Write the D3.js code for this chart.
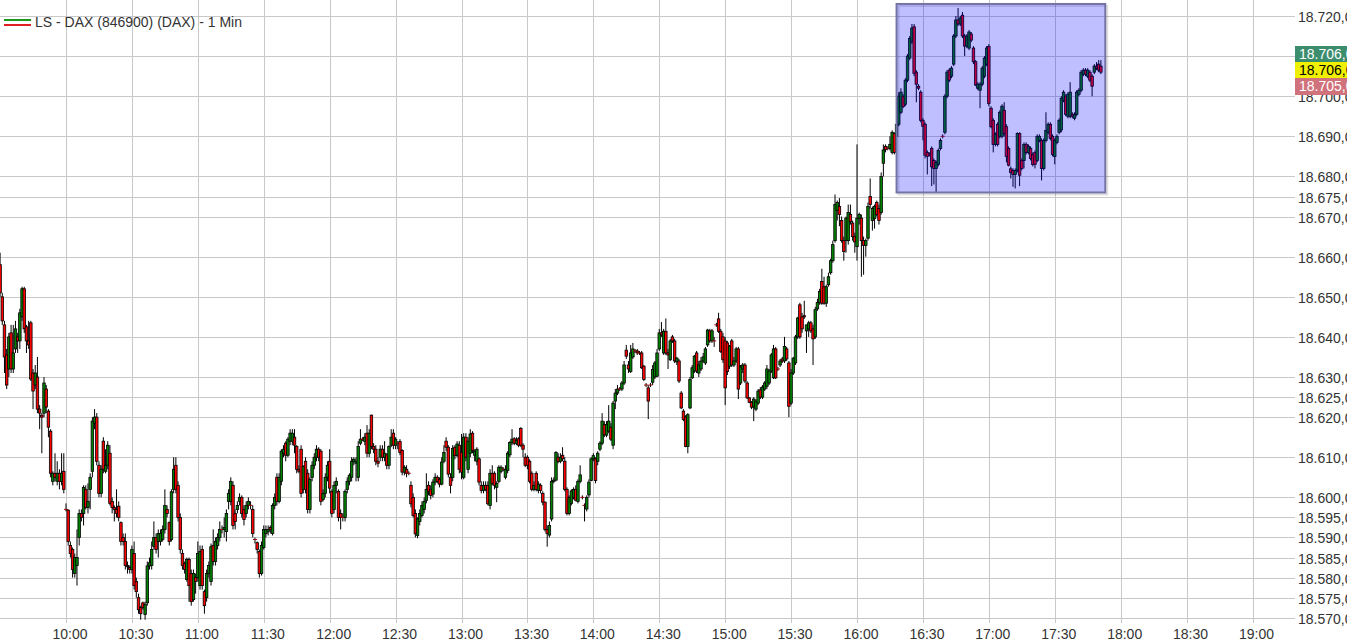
<!DOCTYPE html>
<html><head><meta charset="utf-8">
<script src="https://cdn.jsdelivr.net/npm/d3@7"></script>
<style>
html,body{margin:0;padding:0;background:#fff;overflow:hidden;}
svg{display:block;font-family:"Liberation Sans",Arial,sans-serif;}
</style></head><body>
<svg id="chart" width="1347" height="643"></svg>
<script>
// ---------------- DATA ----------------
const title = "LS - DAX (846900) (DAX) - 1 Min";
const firstBar = [9, 30];           // first 1-minute bar 09:30
// [open, high, low, close] per minute
const candles = [
[18658,18661,18650,18651],[18650,18651,18643,18644],[18643,18644,18631,18635],[18635.5,18637,18627,18628],[18632,18641,18630,18640],[18641,18643,18631,18632],[18632,18643,18631,18636],[18637,18644,18636,18642],[18640,18641,18636,18639],[18639,18647,18637,18646],
[18645,18652.5,18644,18652],[18652,18652.5,18641,18642],[18642.5,18643,18636,18639],[18639,18644,18637,18638],[18643.5,18644,18629,18629.5],[18631,18632,18622,18626.5],[18628,18633,18627,18631],[18630,18635,18621,18622],[18622,18623,18617,18621],[18620.5,18621,18611,18620],
[18621,18630,18620,18628.5],[18627,18628,18621,18622.5],[18621.5,18622,18615,18617.5],[18616.5,18617,18605,18606],[18604,18606.5,18603,18606],[18606,18611,18604,18605],[18604,18609,18603,18606],[18606,18607,18602,18604],[18604,18611,18603,18606],[18606.5,18611,18601,18602],
[18597.2,18598.5,18596.5,18597],[18596.8,18597,18588,18589],[18588,18589,18585,18586],[18587,18587.5,18580,18582],[18581,18586,18580,18585],[18583,18592,18578,18585],[18590,18597,18588,18596],[18596,18597,18594,18595],[18596,18603,18593,18602.5],[18602,18603,18597,18597.5],
[18597.5,18603.5,18596,18599],[18602,18606,18597,18605],[18606.5,18620,18605,18619],[18618.5,18622,18617,18620],[18620,18621,18608,18609],[18608,18609,18600,18601],[18601,18608,18600,18607],[18614,18615,18606,18607],[18606.5,18612,18606,18608],[18608,18614,18607,18613],
[18611,18613,18598,18598.5],[18599,18600,18596,18597.5],[18597.5,18598,18594,18597],[18597,18602,18595,18596],[18597.8,18599,18594,18595],[18593.7,18594,18588,18589],[18590,18591,18588,18589],[18589,18591,18582,18583],[18583,18584,18581,18582.7],[18582.5,18583,18581,18582],
[18582,18588,18581,18587],[18586,18589,18577,18578],[18579,18580,18575,18576.5],[18575,18576,18571,18572],[18572.5,18573,18569.5,18571],[18573.7,18574,18572,18572.5],[18570.8,18574,18569.5,18573.3],[18573.7,18584,18573,18582.9],[18582.9,18585,18582,18583.7],[18583,18589,18582,18587],
[18587.8,18594,18587,18590],[18590,18591,18586,18587],[18589,18592,18585,18591],[18589,18592,18588,18591],[18589.5,18593,18589,18592],[18592,18602,18591,18598],[18597,18598,18595,18596],[18593.7,18594,18588,18589],[18589.5,18602,18589,18601.4],[18602,18610,18601,18607],
[18608,18610,18601,18602],[18603,18604,18594,18595],[18595,18596,18586,18587],[18586,18587,18582,18583],[18583.5,18584,18581,18582],[18579.5,18585,18579,18584.5],[18584.5,18585,18574,18578],[18581,18582,18573,18574],[18574.5,18582,18574,18581],[18580,18581,18576,18579],
[18580,18589,18579,18586],[18578,18588,18577,18586.5],[18587,18588,18577,18578],[18576.5,18577,18571,18573],[18575,18582,18574,18581],[18581,18584,18580,18583],[18579,18588.5,18578,18587.7],[18588,18592,18583,18584],[18584,18590,18583,18589],[18588,18591,18587,18590],
[18590,18594,18589,18592],[18592,18593,18591,18592],[18592,18595,18590,18592.5],[18591.5,18597,18589,18596],[18599,18602,18597,18601],[18599,18605,18598,18604],[18603,18604,18592,18593],[18596,18597,18592,18594],[18597,18599,18596,18598],[18599,18601,18598,18600],
[18600,18600.5,18595,18596],[18597,18598,18593,18594.5],[18596,18599,18595,18598],[18598,18600,18597,18599],[18598,18599,18597,18598],[18597,18598,18590,18591],[18589.5,18590,18588.5,18589.5],[18588.7,18589,18586,18587],[18586.5,18587,18580,18581],[18581,18589,18580.5,18588],
[18587.5,18593,18587,18592],[18591,18593,18590,18592],[18591.5,18593,18590.5,18592],[18592.5,18593,18591,18592],[18591,18598.5,18590.5,18598],[18598,18601,18597,18600],[18605,18606,18598,18599],[18599,18606,18598.5,18605],[18604,18612,18603,18611.5],[18611,18613,18610,18612],
[18613.5,18614,18609,18610.5],[18610.5,18615,18610,18614.5],[18614,18617,18613,18616],[18614,18617,18613,18616],[18615,18617,18611,18613],[18612.7,18613,18606,18607],[18607,18608,18606,18606.5],[18612,18613,18600,18601],[18602,18608,18601,18607.7],[18609,18610,18601,18602],
[18606,18607,18596,18597],[18597,18605,18596,18604.5],[18605,18609,18604,18608],[18608,18611,18607,18610],[18610,18613,18609,18612],[18612,18612.5,18609,18610],[18611.5,18612,18598,18599],[18599.5,18602,18599,18601],[18601,18606,18600,18605],[18605,18609,18604,18608],
[18609,18612,18601,18602.3],[18601.5,18602,18595,18596],[18597,18604,18596,18603],[18603,18605,18601,18604],[18601.5,18602,18594,18595],[18596,18597,18592,18595],[18595,18596,18594,18595],[18595,18602,18594,18601.5],[18602,18605,18601,18604],[18604,18606,18603,18605.5],
[18605,18610,18604,18609],[18609,18610,18608,18609.5],[18608.5,18610,18604,18609],[18605,18614,18604,18612.7],[18613.5,18617,18613,18614.5],[18614.5,18615,18614,18614.5],[18614,18616,18613,18615],[18616,18618,18610,18611],[18611,18617,18610,18616],[18620.5,18620.6,18612,18612.7],
[18612.7,18613.5,18611,18612],[18612,18613,18608,18609],[18609,18610,18607.5,18608.5],[18610,18613,18609,18612],[18612,18613,18609,18610],[18610,18614,18609,18611],[18610.6,18611,18607,18608],[18608,18613,18607,18612.7],[18613,18617,18612.5,18615],[18616,18617,18612,18613],
[18613,18615,18612,18614.5],[18613.5,18614,18612,18613.5],
[18613.9,18614.5,18610.5,18611.2],[18611.7,18612,18605.5,18606.3],[18606.3,18608,18605.5,18607.5],[18607,18608,18605,18606],[18606,18606.5,18605.5,18606],[18603,18604,18597.5,18598.4],[18600,18601,18595,18595.5],[18596,18597,18590,18590.9],[18590.5,18595,18589.8,18594.6],[18594,18597,18593,18596],
[18595.5,18599,18595,18598],[18597,18600,18596,18599],[18599.2,18606,18598.5,18602],[18603,18604,18600.5,18601.5],[18602,18603,18599.5,18600.5],[18600.8,18604.5,18600,18603.8],[18603.8,18606,18603,18605],[18605,18605.5,18603.5,18604],[18604.5,18605,18602.5,18603.3],[18603.3,18610,18603,18608.8],
[18609,18613,18608.5,18611.2],[18614,18615,18611.5,18612.5],[18612.5,18613,18605,18605.8],[18605,18606,18601,18603],[18605,18613,18604,18612.2],[18612.5,18613,18609.5,18610.4],[18610.4,18614,18610,18613.3],[18613,18614,18606,18607],[18611.2,18615.8,18604.5,18606.3],[18605,18616,18604.5,18615],
[18615,18616,18609,18610],[18607,18615,18606,18614],[18611,18617,18610,18615.8],[18616,18616.5,18611,18611.7],[18610.5,18612,18609,18611.5],[18609,18612.5,18608,18612],[18609.6,18610,18603,18603.8],[18603,18604,18601,18601.7],[18601.7,18604,18601,18603],[18603,18604,18601.5,18602],
[18603,18604,18598,18598.4],[18598,18607,18597,18606],[18606,18608,18603,18603.5],[18606,18606.5,18602,18603],[18602.5,18604,18598.8,18603.5],[18604,18608,18603.5,18607.5],[18606.5,18608,18606,18607.5],[18607,18607.5,18606.5,18607],[18605,18608,18604.5,18607],[18606.7,18611.5,18606,18611],
[18610.6,18614,18610,18613.7],[18613.6,18617,18613,18614.5],[18614.6,18615,18613,18613.5],[18613.5,18615,18613,18614.2],[18614.6,18615,18612.5,18613],[18617.2,18617.5,18612.5,18613],[18613,18613.5,18610,18612],[18610,18611,18607.5,18608],[18610,18610.5,18607,18608],[18609,18609.5,18603.5,18604],
[18606,18606.5,18601.5,18602],[18602,18604,18601.5,18603],[18606,18606.5,18601.5,18602],[18601.7,18604,18601,18603.3],[18603,18603.5,18601,18601.7],[18601,18601.5,18598,18598.8],[18598.8,18599,18591.5,18592],[18592,18593,18587.7,18591],[18590.6,18594,18590,18593],[18594.6,18605,18594,18604],
[18604,18605,18603.5,18604.3],[18604.3,18611.5,18604,18611.2],[18610,18611,18608.5,18609],[18609,18611,18608.5,18610],[18610.5,18612.5,18609,18609.6],[18609,18610,18601.5,18602],[18602,18602.5,18595.5,18596],[18596,18600.5,18595.5,18600],[18598.5,18602,18598,18601.6],[18600,18602.5,18599.5,18602],
[18602,18603,18599,18599.3],[18599,18604.5,18598.5,18604],[18604,18608,18603.5,18605.6],[18600,18600.5,18599.5,18600],[18598,18598.5,18594,18598],[18597.1,18600.5,18596.5,18600],[18600.6,18604.5,18600,18603.8],[18604.2,18610,18604,18609.6],[18609.6,18611,18609,18610.4],[18609.6,18610,18603.5,18604.2],
[18609,18611.5,18608,18611],[18612,18614,18611.5,18613.5],
[18613.5,18621,18613,18619],[18618.1,18619,18615,18615.6],[18615.5,18619,18615,18618.2],[18616.5,18623,18616,18619],[18617.5,18618.5,18614,18614.5],[18613,18624,18612,18623.5],[18624,18627,18622,18626],[18626,18628,18625.5,18627],[18627,18627.5,18626.5,18627],[18627,18629,18626.5,18628.5],
[18628.5,18634,18628,18633],[18636.7,18638,18634.5,18635.2],[18633,18634,18631,18632],[18631.4,18638,18631,18636],[18635,18638.5,18634.5,18637],[18636.5,18637,18636,18636.5],[18636.5,18637,18635.5,18636],[18636,18636.5,18635.5,18636],[18636,18636.5,18632,18632.3],[18632.7,18633,18629,18629.4],
[18628,18628.5,18627.5,18628],[18627.3,18628,18619.5,18624],[18628,18628.5,18627.5,18628],[18628.7,18633,18628,18631.9],[18630,18634,18629.5,18633.5],[18630.2,18637,18630,18636],[18637,18642,18636.5,18641],[18641,18643.7,18640,18640.5],[18636,18642,18635.5,18641.4],[18641.4,18644.6,18635.5,18636],
[18636,18637,18632,18635.5],[18634.3,18639.5,18634,18639],[18640,18640.5,18638.5,18639],[18639,18639.5,18633.5,18634],[18633.8,18635,18633,18634.7],[18634,18634.5,18628.5,18629],[18626,18626.5,18622,18622.3],[18621.5,18622,18619,18619.4],[18620,18620.5,18612.5,18612.7],[18612.7,18621,18611,18620.6],
[18622.3,18630,18622,18629.4],[18629.8,18633,18629.5,18632.3],[18631.5,18635.5,18631,18635.2],[18636,18636.5,18631,18631.5],[18631,18634,18630,18633],[18632,18635,18631.5,18634],[18634,18636,18633.5,18635],[18633.5,18637.5,18633,18637],[18638,18642,18637.5,18641.7],[18641.5,18642,18638.5,18639],
[18639,18642,18638.5,18641.5],[18639,18640,18637.5,18639],[18643,18643.5,18642.5,18643],[18644.5,18646,18641,18641.4],[18641.4,18642,18636,18636.4],[18640,18641,18633.5,18634.3],
[18639,18640,18623,18627.3],[18638.5,18639,18630.5,18631.4],[18632.7,18638,18632,18637.7],[18639,18639.5,18632.5,18633],[18633,18635,18632.5,18634],[18634,18637.5,18633.5,18637],[18637,18637.5,18624.5,18627],[18628.5,18633,18628,18632.5],[18632,18633.5,18631,18633],[18633,18633.5,18628.5,18629],
[18628.5,18629,18624.5,18624.8],[18624.8,18625,18623.5,18623.7],[18623.7,18624,18622,18622.5],[18622.5,18625,18619,18624.5],[18622,18624.5,18621.5,18624],[18623.5,18627,18623,18626.5],[18626.8,18627.5,18624.5,18625],[18625,18628,18624.5,18627.5],[18627,18629,18626.5,18628.5],[18627.7,18633,18627,18632],
[18628.5,18632,18628,18631.5],[18631.5,18636,18631,18635.5],[18629.8,18638,18629.5,18637],[18637,18637.5,18629.5,18629.8],[18632,18632.5,18631.5,18632],[18633,18634.5,18632.5,18634],
[18634.5,18635,18633.5,18634],[18634,18640,18633.5,18637.6],[18637,18637.5,18634,18634.5],[18633.5,18634,18620,18622.7],[18623.5,18632,18623,18631],[18631,18635,18630.5,18634.7],[18633.5,18640.5,18633,18640],[18640,18645,18639.5,18644.7],[18648,18648.5,18639.5,18640],[18645,18646,18641,18642],
[18645.3,18649,18644.5,18645],[18641.5,18643,18636,18643],[18642,18644,18640,18643.5],[18643.5,18644,18641,18641.5],[18642,18643,18633,18639.5],[18640,18647.5,18639.5,18646.8],[18647,18649.5,18646.5,18648.6],[18648.6,18652,18648,18651.3],[18653.8,18657,18648,18648.4],[18652.5,18655,18648,18648.4],
[18648.4,18653,18647.5,18652.5],[18653,18656,18652.5,18655],[18656,18659.5,18655.5,18659],[18659,18664,18658.5,18663],[18664,18675.5,18663.5,18673],[18671.5,18674,18669,18673.5],[18672.5,18674.6,18667.6,18670.5],[18669,18670,18663.5,18664],[18664,18665,18659,18661.3],[18664,18670,18661,18669.6],
[18664,18673,18663,18671],[18670.5,18673,18668,18668.7],[18668.4,18669,18664,18665],[18665,18666,18661,18663.7],[18662.5,18688,18659,18669.6],[18669.6,18671,18668,18670.5],[18669.6,18670.5,18655,18664],[18664,18665,18655.5,18662.8],[18662.8,18664.5,18660,18664],[18664.6,18673.5,18664,18672.5],
[18675,18679.5,18672,18673],[18669,18672.5,18666.5,18672],[18669.5,18673,18667,18672.5],[18673.5,18674,18670,18670.5],[18672,18673,18668,18669],
[18671,18681,18670.5,18680],[18683.3,18688,18680,18686.6],[18687.5,18688,18686,18686.7],[18687,18687.5,18686.5,18687],[18687,18690,18686.5,18688],[18686,18691.5,18685.5,18691],[18690.7,18691,18685.5,18686],[18690,18693,18689.5,18693],[18693,18701,18692.5,18700],[18696,18702,18695.5,18701],
[18700,18700.5,18697,18697.4],[18698,18704.5,18697.5,18704],[18704,18710.5,18703.5,18710],[18709.5,18715,18709,18714.4],[18713.6,18718,18713,18717],[18717.3,18718,18705,18705.7],[18706,18706.5,18698.5,18703],[18702.5,18703,18701.5,18702],[18701,18701.5,18693.5,18694],[18694,18694.5,18689,18692.5],
[18693,18693.5,18684.5,18685.3],[18686,18686.5,18680.5,18685],[18685.5,18686,18685,18685.5],[18687,18687.5,18677.6,18682.4],[18684,18684.5,18678,18682],[18682,18684,18676,18683.5],[18683,18687,18682.5,18686.5],[18687,18689.5,18686.5,18689],[18690,18690.5,18689.5,18690],[18691,18700.5,18690.5,18700],
[18700,18706.5,18699.5,18706],[18706.5,18707,18703.5,18704],[18705,18707.5,18704.5,18707],[18708,18715.5,18707.5,18715],[18715,18720,18714.5,18719],[18719,18722,18717.5,18718],[18718,18720,18717.5,18719.5],[18720.2,18721,18714.5,18715],[18715,18715.5,18710,18712.5],[18712.5,18715.5,18712,18715],
[18712,18716.5,18711.5,18716],[18715.5,18716,18713.5,18714],[18712,18712.5,18708,18708.6],[18708.6,18709,18702.5,18702.8],[18702,18703.5,18701.5,18703],[18701.5,18703.5,18697,18703],[18703,18707.5,18702.5,18707],[18705,18710,18704.5,18709.5],[18708,18712.5,18707.5,18712],[18712.4,18713,18697.5,18698.2],
[18697,18697.5,18692,18692.4],[18694,18694.5,18686,18688],[18688,18691,18687.5,18690.5],[18693,18693.5,18687.5,18688],[18690,18696.5,18689.5,18696],[18690,18698,18689.5,18697.5],[18696.5,18698.5,18690,18690.7],[18692.4,18693,18683.5,18685],[18687,18687.5,18682.5,18682.8],[18681.9,18682.5,18679.5,18681],
[18681.5,18682,18677.4,18680.5],[18680.5,18682,18677,18681.5],[18681.6,18691,18681,18690.7],[18690.7,18691,18677.6,18680.3],[18684,18684.5,18681.5,18682],[18684,18688.5,18682,18688],[18688,18688.5,18685.5,18686],[18686,18688,18685.5,18687.5],[18687,18687.5,18684,18684.5],[18685.5,18686,18682.5,18683],
[18686,18686.5,18682,18683],[18684,18690.5,18683.5,18690],[18689,18690.5,18688.5,18690],[18689,18689.5,18679,18682],[18682,18689.5,18681.5,18689],[18689,18696,18688.5,18691.5],[18691,18693.5,18690.5,18693],[18693,18693.5,18689,18689.5],[18690,18690.5,18685,18685.5],[18685,18689.5,18683,18689],
[18688.5,18690.5,18688,18690],[18691,18694.5,18690.5,18694],[18691.6,18700,18691,18699.5],[18699,18701.5,18698.5,18701],[18700,18700.5,18695,18695.5],[18695,18701,18694.5,18700.5],[18695,18703.5,18694.5,18701],[18695.5,18696,18694.5,18695],[18694.5,18696,18694,18695.5],[18695.5,18701.5,18695,18701],
[18700.5,18702,18700,18701.5],[18701.5,18706.5,18701,18706],[18705.5,18707,18705,18706.5],[18706.5,18707,18705,18705.5],[18705,18707,18704.5,18706.5],[18706,18706.5,18703.5,18704],[18705,18705.5,18700,18702.5],[18706,18708,18705.5,18707.5],[18707.5,18708.5,18706.5,18707],[18708,18709,18706,18706.5],
[18707.5,18709,18705.5,18706]
];
const timeTicks = ["10:00","10:30","11:00","11:30","12:00","12:30","13:00","13:30","14:00","14:30","15:00","15:30","16:00","16:30","17:00","17:30","18:00","18:30","19:00"];
const priceGrid = [18720,18710,18700,18690,18680,18675,18670,18660,18650,18640,18630,18625,18620,18610,18600,18595,18590,18585,18580,18575,18570];
const quoteValues = [18706, 18706, 18705];            // ask, last, bid
const zoneTime = ["16:18", "17:53"];                  // highlighted box
const zonePrice = [18723, 18676];

// ---------------- STYLE / LAYOUT ----------------
const W = 1347, H = 643;
const upColor = "#008000", downColor = "#ff0000", dojiColor = "#a00000";
const gridColor = "#c8c8c8", textColor = "#333";
const tagFill = ["#3c8c6e", "#f0f000", "#d0727c"];
const tagText = ["#ffffff", "#000000", "#ffffff"];

const day = (h, m) => new Date(2024, 0, 2, h, m);
const parseHM = s => { const [h, m] = s.split(":").map(Number); return day(h, m); };

const x = d3.scaleTime().domain([day(10, 0), day(19, 0)]).range([66, 1252.5]);
const y = d3.scaleLinear().domain([18570, 18720]).range([617.7, 16]);

const svg = d3.select("#chart");
const deLocale = d3.formatLocale({decimal: ",", thousands: ".", grouping: [3], currency: ["", ""]});
const fmt = deLocale.format(",.2f");

// vertical grid
svg.append("g").selectAll("line").data(timeTicks).join("line")
  .attr("x1", d => Math.round(x(parseHM(d))) + 0.5).attr("x2", d => Math.round(x(parseHM(d))) + 0.5)
  .attr("y1", 0).attr("y2", 623)
  .attr("stroke", gridColor).attr("stroke-width", 1).attr("shape-rendering", "crispEdges");

// horizontal grid
svg.append("g").selectAll("line").data(priceGrid).join("line")
  .attr("x1", 0).attr("x2", 1295)
  .attr("y1", d => Math.round(y(d)) + 0.5).attr("y2", d => Math.round(y(d)) + 0.5)
  .attr("stroke", gridColor).attr("stroke-width", 1).attr("shape-rendering", "crispEdges");

// candles
const bars = candles.map((c, i) => ({t: day(firstBar[0], firstBar[1] + i), o: c[0], h: c[1], l: c[2], c: c[3]}));
const cg = svg.append("g");
bars.forEach(b => {
  const cx = x(b.t);
  const g = cg.append("g");
  g.append("line").attr("x1", cx).attr("x2", cx).attr("y1", y(b.h)).attr("y2", y(b.l))
    .attr("stroke", "#000").attr("stroke-width", 1);
  if (Math.abs(b.o - b.c) < 0.25) {
    g.append("line").attr("x1", cx - 2).attr("x2", cx + 2).attr("y1", y(b.c)).attr("y2", y(b.c))
      .attr("stroke", dojiColor).attr("stroke-width", 1);
  } else {
    const top = y(Math.max(b.o, b.c)), bot = y(Math.min(b.o, b.c));
    g.append("rect").attr("x", cx - 1.25).attr("width", 2.5)
      .attr("y", top).attr("height", Math.max(0.5, bot - top))
      .attr("fill", b.c > b.o ? upColor : downColor)
      .attr("stroke", "#000").attr("stroke-width", 0.8);
  }
});

// highlighted zone
const zx0 = x(parseHM(zoneTime[0])), zx1 = x(parseHM(zoneTime[1]));
const zy0 = y(zonePrice[0]), zy1 = y(zonePrice[1]);
svg.append("rect").attr("x", zx0 + 2).attr("y", zy0 + 2).attr("width", zx1 - zx0).attr("height", zy1 - zy0)
  .attr("fill", "none").attr("stroke", "rgba(0,0,0,0.12)").attr("stroke-width", 2);
svg.append("rect").attr("x", zx0).attr("y", zy0).attr("width", zx1 - zx0).attr("height", zy1 - zy0)
  .attr("fill", "rgba(0,0,255,0.25)").attr("stroke", "#7474a6").attr("stroke-width", 2);

// price labels
svg.append("g").selectAll("text").data(priceGrid).join("text")
  .attr("x", 1298).attr("y", d => Math.round(y(d)) + 5.5)
  .attr("font-size", 14).attr("fill", textColor).text(d => fmt(d));

// time labels
svg.append("g").selectAll("text").data(timeTicks).join("text")
  .attr("x", d => x(parseHM(d)) + 4).attr("y", 638.5).attr("text-anchor", "middle")
  .attr("font-size", 14).attr("fill", textColor).text(d => d);

// quote tags
const lastY = Math.round(y(quoteValues[1]));
const tagTops = [lastY - 26, lastY - 10, lastY + 6];
const tagH = [16, 16, 17];
quoteValues.forEach((v, i) => {
  svg.append("rect").attr("x", 1295).attr("y", tagTops[i]).attr("width", 60).attr("height", tagH[i]).attr("fill", tagFill[i]);
  svg.append("text").attr("x", 1299).attr("y", tagTops[i] + 13).attr("font-size", 14)
    .attr("fill", tagText[i]).text(fmt(v));
});

// legend
svg.append("line").attr("x1", 4).attr("x2", 31).attr("y1", 20).attr("y2", 20).attr("stroke", "#1a9a1a").attr("stroke-width", 2);
svg.append("line").attr("x1", 4).attr("x2", 31).attr("y1", 25).attr("y2", 25).attr("stroke", "#e02020").attr("stroke-width", 2);
svg.append("text").attr("x", 35).attr("y", 27).attr("font-size", 14).attr("fill", textColor).text(title);
</script>
</body></html>
